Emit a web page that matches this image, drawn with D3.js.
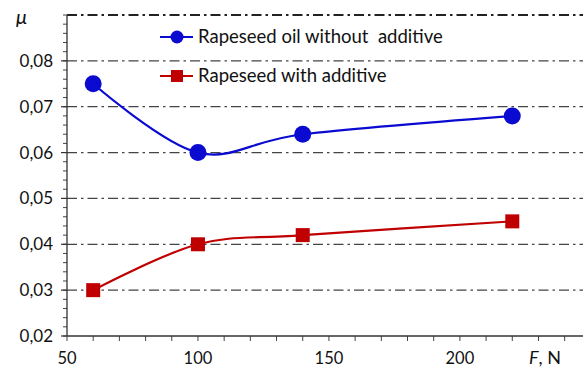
<!DOCTYPE html>
<html>
<head>
<meta charset="utf-8">
<script src="https://d3js.org/d3.v7.min.js"></script>
<style>
  body { margin: 0; background: #fff; }
  text { font-family: Lato, "Open Sans", sans-serif; fill: #111; }
</style>
</head>
<body>
<svg width="583" height="369"></svg>
<script>
// data
var loads = [60, 100, 140, 220];
var withoutAdditive = [0.075, 0.060, 0.064, 0.068];
var withAdditive = [0.030, 0.040, 0.042, 0.045];
var seriesNames = ["Rapeseed oil without  additive", "Rapeseed with additive"];
var yTicks = [0.02, 0.03, 0.04, 0.05, 0.06, 0.07, 0.08];
var xTicks = [50, 100, 150, 200];

var svg = d3.select("svg"),
    plot = {left: 67, right: 583, top: 15, bottom: 336};

var x = d3.scaleLinear().domain([50, 247]).range([plot.left, plot.right]);
var y = d3.scaleLinear().domain([0.02, 0.09]).range([plot.bottom, plot.top]);

//dash-dot gridlines (top one included)
svg.selectAll(".grid")
    .data(yTicks.slice(1).concat([0.09]))
    .enter().append("line")
    .attr("x1", plot.left).attr("x2", plot.right)
    .attr("y1", function(d){return y(d);})
    .attr("y2", function(d){return y(d);})
    .attr("stroke", function(d){return d == 0.09 ? "#222" : "#444";})
    .attr("stroke-width", function(d){return d == 0.09 ? 1.8 : 1.3;})
    .attr("stroke-dasharray", "10,4,2.5,4");

//minor ticks
var yMinor = d3.range(0.02, 0.0901, 0.002);
svg.selectAll(".ym").data(yMinor).enter().append("line")
    .attr("x1", plot.left - 4).attr("x2", plot.left)
    .attr("y1", function(d){return y(d);}).attr("y2", function(d){return y(d);})
    .attr("stroke", "#444").attr("stroke-width", 1);
var xMinor = d3.range(50, 247, 10);
svg.selectAll(".xm").data(xMinor).enter().append("line")
    .attr("x1", function(d){return x(d);}).attr("x2", function(d){return x(d);})
    .attr("y1", plot.bottom).attr("y2", plot.bottom + 5)
    .attr("stroke", "#444").attr("stroke-width", 1);

//axes lines
svg.append("line").attr("x1", plot.left).attr("x2", plot.left).attr("y1", plot.top).attr("y2", plot.bottom)
    .attr("stroke", "#333").attr("stroke-width", 1.3);
svg.append("line").attr("x1", plot.left).attr("x2", plot.right).attr("y1", plot.bottom).attr("y2", plot.bottom)
    .attr("stroke", "#333").attr("stroke-width", 1.3);

//major y ticks + labels
svg.selectAll(".yt").data(yTicks).enter().append("line")
    .attr("x1", plot.left - 6).attr("x2", plot.left)
    .attr("y1", function(d){return y(d);}).attr("y2", function(d){return y(d);})
    .attr("stroke", "#333").attr("stroke-width", 1.2);
svg.selectAll(".yl").data(yTicks).enter().append("text")
    .attr("x", 53).attr("y", function(d){return y(d) + 6;})
    .attr("text-anchor", "end").attr("font-size", 17)
    .text(function(d){return d.toFixed(2).replace(".", ",");});
svg.selectAll(".xl").data(xTicks).enter().append("text")
    .attr("x", function(d){return x(d);}).attr("y", 364)
    .attr("text-anchor", "middle").attr("font-size", 16.5)
    .text(function(d){return d;});

//axis titles
svg.append("text").attr("x", 16).attr("y", 24).attr("font-size", 20)
    .attr("font-style", "italic").text("μ");
var ft = svg.append("text").attr("x", 529).attr("y", 364).attr("font-size", 18);
ft.append("tspan").attr("font-style", "italic").text("F");
ft.append("tspan").text(", N");

//series
var series = [
  {vals: withoutAdditive, color: "#0a0ad0", marker: "circle"},
  {vals: withAdditive, color: "#c00000", marker: "square"}
];
var line = d3.line()
    .x(function(d){return x(d[0]);})
    .y(function(d){return y(d[1]);})
    .curve(d3.curveCardinal.tension(0));

series.forEach(function(s){
  var pts = loads.map(function(l, i){return [l, s.vals[i]];});
  svg.append("path").datum(pts).attr("d", line)
      .attr("fill", "none").attr("stroke", s.color).attr("stroke-width", 2.2);
  if (s.marker == "circle") {
    svg.selectAll(null).data(pts).enter().append("circle")
        .attr("cx", function(d){return x(d[0]);}).attr("cy", function(d){return y(d[1]);})
        .attr("r", 8.5).attr("fill", s.color);
  } else {
    svg.selectAll(null).data(pts).enter().append("rect")
        .attr("x", function(d){return x(d[0]) - 7;}).attr("y", function(d){return y(d[1]) - 7;})
        .attr("width", 14).attr("height", 14).attr("fill", s.color);
  }
});

//legend
var legY = [37, 76];
series.forEach(function(s, i){
  var g = svg.append("g").attr("transform", "translate(160," + legY[i] + ")");
  g.append("line").attr("x1", 0).attr("x2", 33).attr("stroke", s.color).attr("stroke-width", 2.2);
  if (s.marker == "circle") g.append("circle").attr("cx", 17).attr("r", 6.5).attr("fill", s.color);
  else g.append("rect").attr("x", 11).attr("y", -6).attr("width", 12).attr("height", 12).attr("fill", s.color);
  g.append("text").attr("x", 38).attr("y", 6).attr("font-size", 18.5)
      .attr("xml:space", "preserve").style("white-space", "pre").text(seriesNames[i]);
});
</script>
</body>
</html>
